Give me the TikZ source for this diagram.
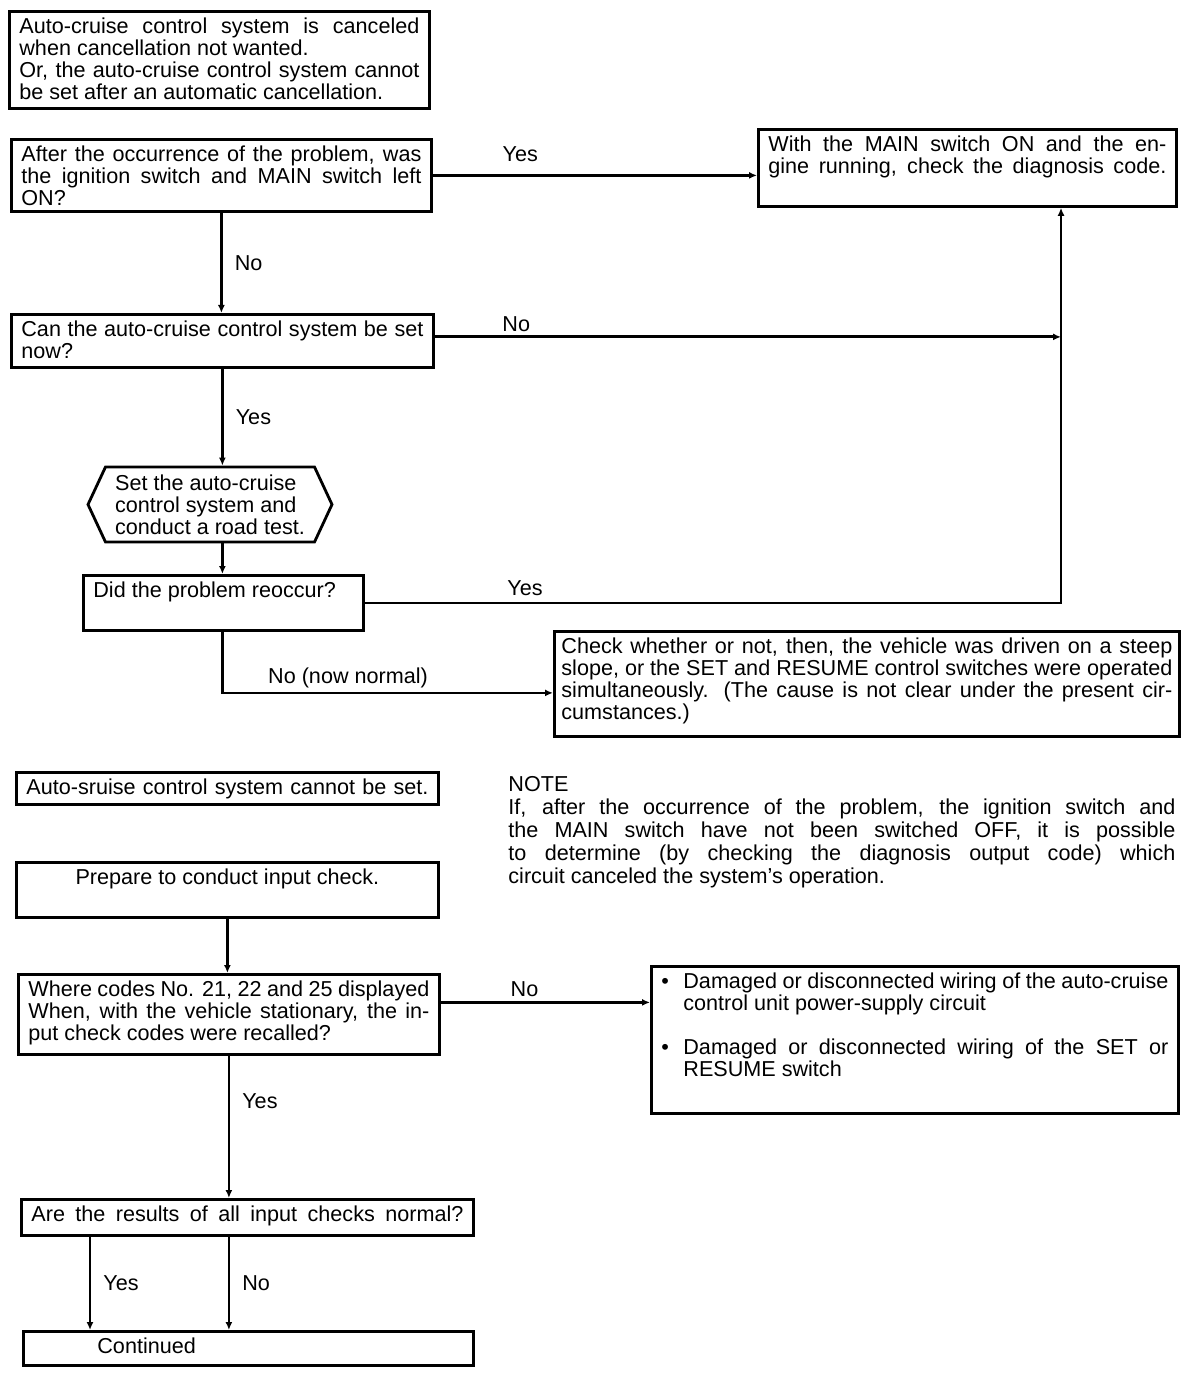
\documentclass[tikz,border=0pt]{standalone}
\usepackage{fontspec}
\setmainfont{Liberation Sans}
\usepackage{tikz}
\usetikzlibrary{positioning,calc,arrows.meta,shapes.symbols}
\tikzstyle{box} = [draw,line width=1.4pt,rectangle,anchor=north west,inner xsep=5pt,inner ysep=3pt]
\tikzstyle{hexa} = [draw,line width=1.4pt,signal,signal to=west and east,signal pointer angle=130,minimum width=122pt,minimum height=37.5pt,inner xsep=3pt,align=left]
\tikzstyle{line} = [draw,line width=1.4pt]
\tikzstyle{arr} = [-{Latex[length=4pt,width=3.5pt]}]
\tikzstyle{lbl} = [inner sep=1pt]
\newcommand{\boxtext}[3]{\parbox[t][#2][t]{#1}{#3}}

\begin{document}
\begin{tikzpicture}[x=0.5pt,y=-0.5pt,every node/.style={font=\fontsize{10.8}{11}\selectfont}]
    \useasboundingbox (0,0) rectangle (1200,1374);
    % upper chart
    \node[box] (cancel) at (8,10) {\boxtext{200pt}{42.5pt}{Auto-cruise control system is canceled\linebreak when cancellation not wanted.\\ Or, the auto-cruise control system cannot\linebreak be set after an automatic cancellation.}};
    \node[box] (leftOn) at (10,138) {\boxtext{200pt}{30pt}{After the occurrence of the problem, was\linebreak the ignition switch and MAIN switch left\linebreak ON?}};
    \node[box] (diag) at (757,128) {\boxtext{199pt}{32.5pt}{\parfillskip=0pt With the MAIN switch ON and the en-\linebreak gine running, check the diagnosis code.}};
    \node[box] (setNow) at (10,313) {\boxtext{201pt}{20.5pt}{Can the auto-cruise control system be set\linebreak now?}};
    \node[hexa] (roadTest) at (210,504.5) {Set the auto-cruise\\control system and\\conduct a road test.};
    \node[box] (reoccur) at (82,574) {\boxtext{130pt}{21.5pt}{Did the problem reoccur?}};
    \node[box,inner xsep=3.5pt] (cause) at (553,630) {\boxtext{305.5pt}{46.5pt}{Check whether or not, then, the vehicle was driven on a steep\linebreak slope, or the SET and RESUME control switches were operated\linebreak simultaneously. (The cause is not clear under the present cir-\linebreak cumstances.)}};
    \coordinate (riser) at (1061,601);

    \path [line,arr] (leftOn.east) -- node[lbl,above=5pt,pos=0.27] {Yes} (leftOn.east -| diag.west);
    \path [line,arr] (leftOn.south) -- node[lbl,right=5pt] {No} (leftOn.south |- setNow.north);
    \path [line,arr] ([yshift=2pt]setNow.east) -- node[lbl,above=1pt,pos=0.13] {No} ([yshift=2pt]setNow.east -| riser);
    \path [line,arr] (setNow.south) -- node[lbl,right=5pt] {Yes} (setNow.south |- roadTest.north);
    \path [line,arr] (roadTest.south -| setNow.south) -- (setNow.south |- reoccur.north);
    \path [line,arr] (reoccur.east) -- node[lbl,above=2pt,pos=0.23] {Yes} (reoccur.east -| riser) -- (riser |- diag.south);
    \path [line,arr] (setNow.south |- reoccur.south) |- node[lbl,above=1pt,pos=0.69] {No (now normal)} ([yshift=-4.5pt]cause.west);

    % lower chart
    \node[box] (noSet) at (15,771) {\boxtext{201pt}{10pt}{\parfillskip=0pt Auto-sruise control system cannot be set.}};
    \node[anchor=north west,inner sep=0pt] (note) at (508,776) {\boxtext{333.5pt}{50pt}{\fontsize{10.8}{11.5}\selectfont NOTE\\ If, after the occurrence of the problem, the ignition switch and\linebreak the MAIN switch have not been switched OFF, it is possible\linebreak to determine (by checking the diagnosis output code) which\linebreak circuit canceled the system's operation.}};
    \node[box] (prep) at (15,861) {\boxtext{201pt}{21.5pt}{\centering Prepare to conduct input check.}};
    \node[box] (codes) at (17,973) {\boxtext{200.5pt}{34pt}{Where codes No. 21, 22 and 25 displayed\linebreak When, with the vehicle stationary, the in-\linebreak put check codes were recalled?}};
    \node[box] (wiring) at (650,965) {\boxtext{253.5pt}{67.5pt}{\hangindent=11pt\hangafter=1\makebox[11pt][l]{\textbullet}Damaged or disconnected wiring of the auto-cruise\linebreak control unit power-supply circuit\par\vspace{11pt}\hangindent=11pt\hangafter=1\makebox[11pt][l]{\textbullet}Damaged or disconnected wiring of the SET or\linebreak RESUME switch}};
    \node[box] (allOk) at (20,1198) {\boxtext{216pt}{12pt}{\parfillskip=0pt Are the results of all input checks normal?}};
    \node[box] (cont) at (22,1330) {\boxtext{215pt}{11pt}{\hspace*{32pt}Continued}};

    \path [line,arr] (prep.south) -- (prep.south |- codes.north);
    \path [line,arr] ([yshift=6pt]codes.east) -- node[lbl,above=1pt,pos=0.4] {No} ([yshift=6pt]codes.east -| wiring.west);
    \path [line,arr] (codes.south) -- node[lbl,right=5pt,pos=0.32] {Yes} (codes.south |- allOk.north);
    \path [line,arr] ([xshift=35pt]allOk.south west) -- node[lbl,right=5pt] {Yes} ([xshift=35pt]allOk.south west |- cont.north);
    \path [line,arr] (allOk.south -| codes.south) -- node[lbl,right=5pt] {No} (codes.south |- cont.north);
\end{tikzpicture}
\end{document}
